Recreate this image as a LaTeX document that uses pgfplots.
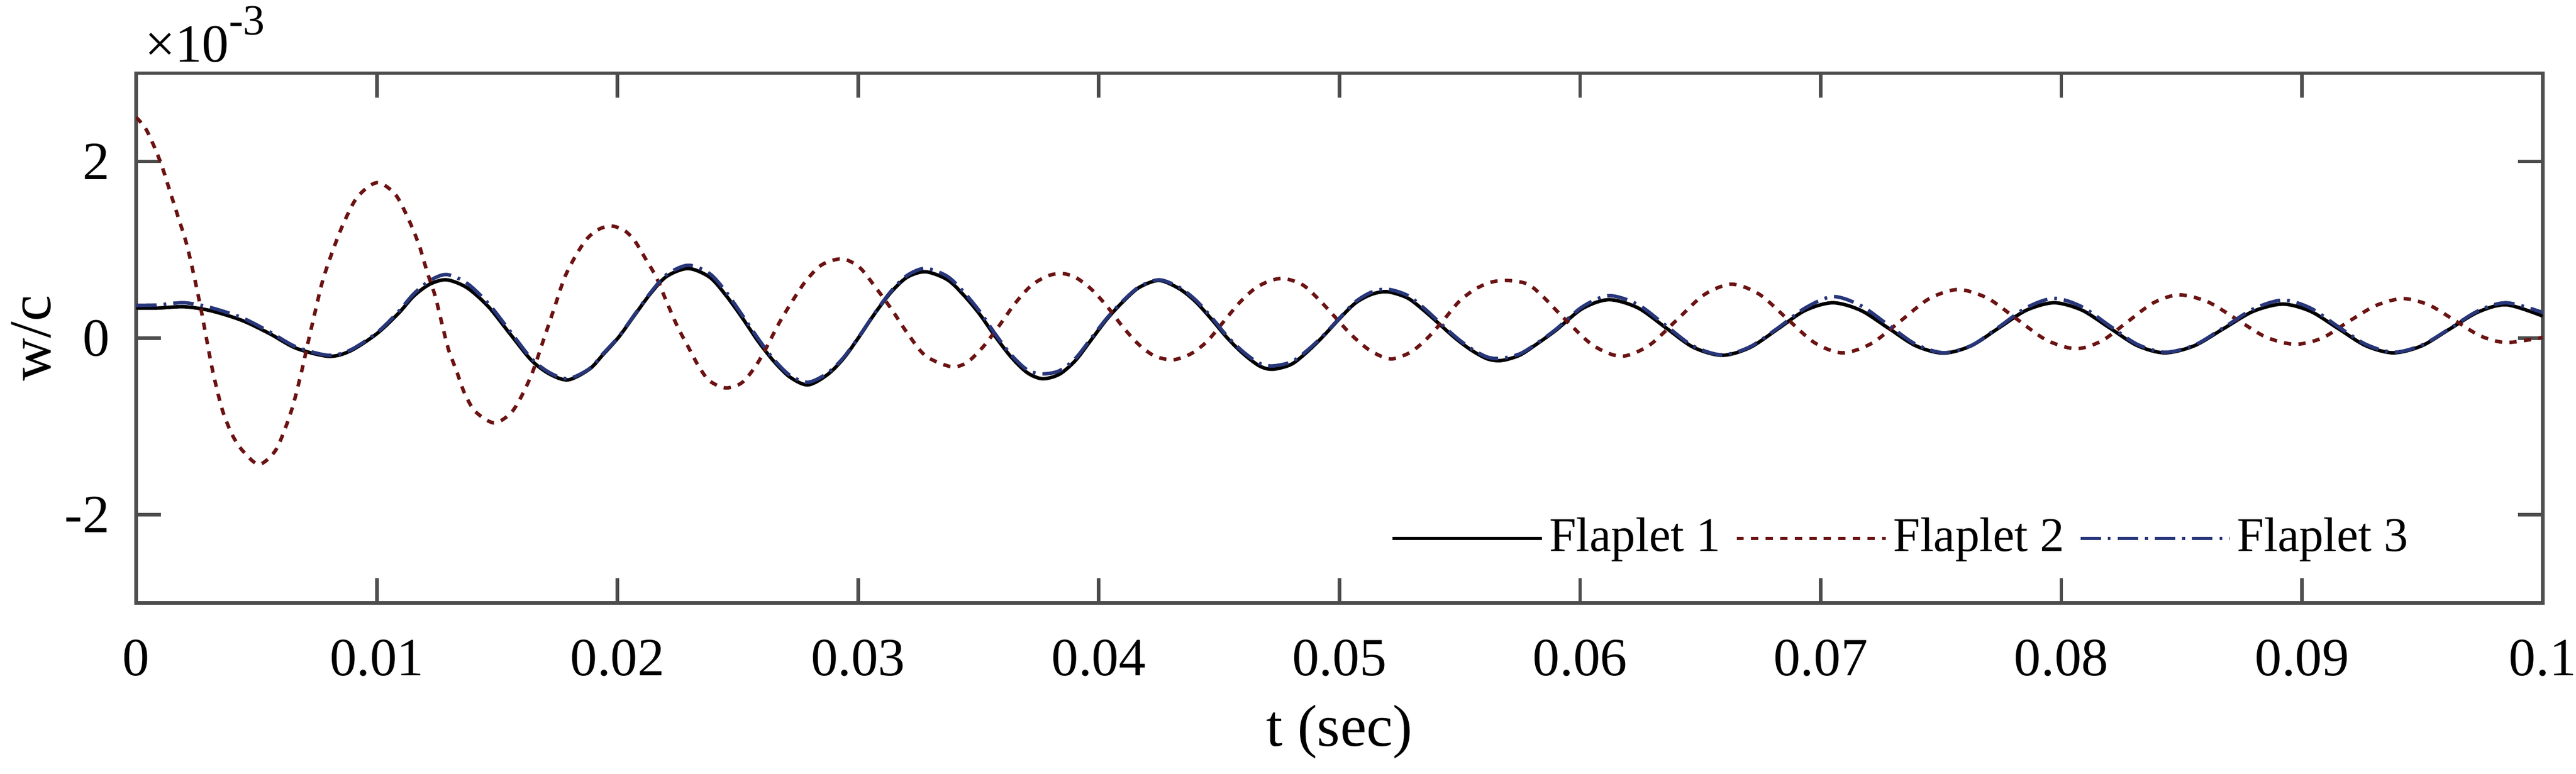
\documentclass[border=0pt]{standalone}
\usepackage{fontspec}
\setmainfont{Liberation Serif}
\usepackage{pgfplots}
\pgfplotsset{compat=1.18}
\definecolor{axgray}{RGB}{77,77,77}
\definecolor{fred}{RGB}{107,18,18}
\definecolor{fblue}{RGB}{40,54,122}
\begin{document}
\begin{tikzpicture}
\path[use as bounding box] (-25.3pt,-31.7pt) rectangle (453.3pt,112.1pt);
\begin{axis}[
  at={(0pt,0pt)}, anchor=south west,
  scale only axis, width=447.1pt, height=98.5pt,
  xmin=0, xmax=0.1, ymin=-3, ymax=3,
  xtick={0,0.01,0.02,0.03,0.04,0.05,0.06,0.07,0.08,0.09,0.1},
  xticklabels={0,0.01,0.02,0.03,0.04,0.05,0.06,0.07,0.08,0.09,0.1},
  ytick={-2,0,2}, yticklabels={-2,0,2},
  scaled x ticks=false, scaled y ticks=false,
  tick align=inside, major tick length=4.6pt,
  tick style={color=axgray, line width=0.65pt},
  axis line style={color=axgray, line width=0.65pt},
  ticklabel style={font=\fontsize{10}{12}\selectfont, text=black},
  xticklabel style={yshift=-3.27pt},
  yticklabel style={xshift=-1.4pt},
  legend columns=3,
  legend image code/.code={\draw[#1] (0pt,0pt) -- (27.7pt,0pt);},
  legend style={draw=none, fill=none, at={(0.734,0.1218)}, anchor=center,
    inner xsep=0pt, inner ysep=0pt, font=\fontsize{9}{11}\selectfont,
    nodes={inner sep=1.1pt},
    /tikz/every even column/.append style={column sep=1.6pt}},
]
\addplot[black, line width=0.65pt, smooth] coordinates {
(0,0.34) (0.0009,0.34) (0.002,0.355) (0.0031,0.31) (0.0044,0.20) (0.00555,0.05)
(0.00665,-0.115) (0.0080,-0.206) (0.0089,-0.145) (0.0100,0.05) (0.0109,0.28)
(0.01153,0.475) (0.0122,0.61) (0.0129,0.66) (0.01375,0.57) (0.01464,0.355)
(0.01553,0.05) (0.01642,-0.25) (0.01717,-0.405) (0.01795,-0.473) (0.01884,-0.35)
(0.01939,-0.19) (0.02006,0.014) (0.02072,0.263) (0.02139,0.51) (0.02205,0.70)
(0.02294,0.788) (0.02383,0.69) (0.02449,0.49) (0.02516,0.24) (0.02583,-0.03)
(0.02649,-0.26) (0.02716,-0.44) (0.02791,-0.53) (0.02871,-0.417) (0.02938,-0.235)
(0.03004,0.014) (0.03071,0.285) (0.03138,0.523) (0.03204,0.69) (0.03280,0.751)
(0.03370,0.663) (0.03436,0.495) (0.03503,0.278) (0.03569,0.022) (0.03636,-0.215)
(0.03703,-0.392) (0.03766,-0.46) (0.03836,-0.41) (0.03903,-0.254) (0.03969,-0.018)
(0.04035,0.219) (0.04102,0.416) (0.04168,0.574) (0.04251,0.653) (0.04334,0.56)
(0.04401,0.416) (0.04467,0.219) (0.04534,0.002) (0.046,-0.176) (0.04667,-0.314)
(0.04722,-0.353) (0.048,-0.297) (0.04866,-0.156) (0.04933,0.022) (0.05,0.219)
(0.05066,0.396) (0.05133,0.495) (0.05199,0.525) (0.05282,0.456) (0.05349,0.318)
(0.05415,0.16) (0.05482,-0.002) (0.05548,-0.136) (0.05615,-0.235) (0.05673,-0.254)
(0.05748,-0.195) (0.05815,-0.077)
(0.0590,0.09) (0.0601,0.335) (0.0612,0.435) (0.0624,0.343) (0.06355,0.12)
(0.0647,-0.103) (0.0659,-0.195) (0.06705,-0.108) (0.0682,0.10) (0.06935,0.313)
(0.0705,0.40) (0.07165,0.316) (0.0728,0.115) (0.07395,-0.087) (0.0751,-0.17)
(0.07625,-0.087) (0.0774,0.115) (0.07855,0.316) (0.0797,0.40) (0.08085,0.317)
(0.082,0.117) (0.08315,-0.084) (0.0843,-0.167) (0.08553,-0.086) (0.08675,0.109)
(0.08798,0.304) (0.0892,0.385) (0.09035,0.304) (0.0915,0.109) (0.09265,-0.086)
(0.0938,-0.167) (0.09498,-0.087) (0.09615,0.105) (0.09733,0.297) (0.0985,0.377)
(0.1,0.25)
};
\addlegendentry{Flaplet 1}
\addplot[fred, line width=0.65pt, smooth, dash pattern=on 1.35pt off 1.35pt] coordinates {
(0,2.50) (0.00044,2.35) (0.001,2.0) (0.00144,1.63) (0.00177,1.35) (0.00211,1.05)
(0.00244,0.66) (0.00272,0.29) (0.00311,-0.28) (0.00333,-0.55) (0.0036,-0.83)
(0.0040,-1.10) (0.00444,-1.28) (0.0051,-1.43) (0.00577,-1.28) (0.00621,-1.01)
(0.00654,-0.74) (0.00688,-0.37) (0.00715,-0.04) (0.00743,0.29) (0.00776,0.66)
(0.00821,1.02) (0.00865,1.32) (0.0092,1.60) (0.0100,1.76) (0.01076,1.63)
(0.01131,1.35) (0.01176,1.05) (0.01209,0.75) (0.01242,0.48) (0.0127,0.17)
(0.01298,-0.13) (0.01331,-0.37) (0.01364,-0.62) (0.01409,-0.83) (0.01486,-0.96)
(0.01553,-0.86) (0.01597,-0.68) (0.01645,-0.40) (0.01694,-0.01) (0.01739,0.353)
(0.01781,0.69) (0.01828,0.94) (0.01872,1.12) (0.01917,1.225) (0.01972,1.27)
(0.02028,1.22) (0.02072,1.10) (0.02117,0.897) (0.02161,0.69) (0.02206,0.40)
(0.0225,0.127) (0.02294,-0.10) (0.02339,-0.326) (0.02383,-0.485) (0.0245,-0.564)
(0.02516,-0.507) (0.02572,-0.326) (0.02616,-0.122) (0.02672,0.172) (0.02727,0.42)
(0.02783,0.648) (0.02849,0.83) (0.02932,0.897) (0.03004,0.806) (0.03071,0.58)
(0.03138,0.33) (0.03204,0.059) (0.03280,-0.20) (0.03387,-0.324) (0.03453,-0.274)
(0.0352,-0.097) (0.03586,0.14) (0.03653,0.396) (0.03719,0.594) (0.03786,0.702)
(0.03844,0.732) (0.03902,0.69) (0.03969,0.554) (0.04035,0.357) (0.04102,0.12)
(0.04168,-0.077) (0.04234,-0.205) (0.04309,-0.245) (0.04384,-0.176) (0.0445,-0.037)
(0.04517,0.18) (0.04583,0.396) (0.0465,0.564) (0.04716,0.653) (0.04774,0.673)
(0.04849,0.60) (0.04915,0.436) (0.04982,0.238) (0.05048,0.041) (0.05115,-0.117)
(0.05173,-0.205) (0.05223,-0.235) (0.05298,-0.156) (0.05365,-0.002) (0.05431,0.199)
(0.05498,0.416) (0.05564,0.554) (0.0563,0.633) (0.05697,0.653) (0.05781,0.613)
(0.05844,0.475) (0.05935,0.22) (0.06053,-0.08) (0.0617,-0.206) (0.06285,-0.086)
(0.064,0.20) (0.06515,0.49) (0.0663,0.61) (0.06745,0.496) (0.0686,0.22)
(0.06975,-0.053) (0.0709,-0.167) (0.0721,-0.062) (0.0733,0.19) (0.0745,0.445)
(0.0757,0.55) (0.07693,0.452) (0.07815,0.215) (0.07938,-0.022) (0.0806,-0.12)
(0.08168,-0.031) (0.08275,0.185) (0.08383,0.40) (0.0849,0.49) (0.0861,0.408)
(0.0873,0.21) (0.0885,0.012) (0.0897,-0.07) (0.09083,0.0) (0.09195,0.19)
(0.09308,0.37) (0.0942,0.447) (0.09528,0.374) (0.09635,0.20) (0.09743,0.023)
(0.0985,-0.05) (0.1,0.008)
};
\addlegendentry{Flaplet 2}
\addplot[fblue, line width=0.65pt, smooth, dash pattern=on 3.8pt off 1.3pt on 0.5pt off 1.3pt] coordinates {
(0,0.37) (0.0009,0.375) (0.002,0.40) (0.0031,0.345) (0.0044,0.23) (0.00555,0.07)
(0.00665,-0.10) (0.0080,-0.195) (0.0089,-0.135) (0.0100,0.06) (0.0109,0.30)
(0.01153,0.50) (0.0122,0.65) (0.0129,0.72) (0.01375,0.62) (0.01464,0.39)
(0.01553,0.08) (0.01642,-0.23) (0.01717,-0.39) (0.01795,-0.46) (0.01884,-0.345)
(0.01939,-0.18) (0.02006,0.02) (0.02072,0.27) (0.02139,0.52) (0.02205,0.72)
(0.02294,0.825) (0.02383,0.73) (0.02449,0.53) (0.02516,0.27) (0.02583,0.0)
(0.02649,-0.24) (0.02716,-0.42) (0.02791,-0.50) (0.02871,-0.40) (0.02938,-0.225)
(0.03004,0.02) (0.03071,0.29) (0.03138,0.535) (0.03204,0.71) (0.03280,0.79)
(0.03370,0.70) (0.03436,0.53) (0.03503,0.31) (0.03569,0.05) (0.03636,-0.19)
(0.03703,-0.36) (0.03766,-0.405) (0.03836,-0.37) (0.03903,-0.23) (0.03969,0.0)
(0.04035,0.23) (0.04102,0.425) (0.04168,0.58) (0.04251,0.66) (0.04334,0.575)
(0.04401,0.435) (0.04467,0.24) (0.04534,0.02) (0.046,-0.155) (0.04667,-0.285)
(0.04722,-0.315) (0.048,-0.27) (0.04866,-0.14) (0.04933,0.03) (0.05,0.225)
(0.05066,0.41) (0.05133,0.52) (0.05199,0.554) (0.05282,0.485) (0.05349,0.345)
(0.05415,0.18) (0.05482,0.015) (0.05548,-0.12) (0.05615,-0.215) (0.05673,-0.23)
(0.05748,-0.18) (0.05815,-0.07)
(0.0590,0.10) (0.0601,0.355) (0.0612,0.48) (0.0624,0.38) (0.06355,0.145)
(0.0647,-0.09) (0.0659,-0.19) (0.06705,-0.10) (0.0682,0.11) (0.06935,0.34)
(0.0705,0.47) (0.07165,0.37) (0.0728,0.15) (0.07395,-0.07) (0.0751,-0.165)
(0.07625,-0.085) (0.0774,0.125) (0.07855,0.345) (0.0797,0.45) (0.08085,0.355)
(0.082,0.14) (0.08315,-0.07) (0.0843,-0.16) (0.08553,-0.08) (0.08675,0.12)
(0.08798,0.33) (0.0892,0.43) (0.09035,0.34) (0.0915,0.13) (0.09265,-0.07)
(0.0938,-0.16) (0.09498,-0.08) (0.09615,0.11) (0.09733,0.31) (0.0985,0.40)
(0.1,0.29)
};
\addlegendentry{Flaplet 3}
\end{axis}
\node[anchor=base west, inner sep=0pt, font=\fontsize{10}{12}\selectfont] at (1.4pt,100.6pt) {×10\raisebox{5pt}{\fontsize{8}{9}\selectfont -3}};
\node[rotate=90, anchor=base, inner sep=0pt, font=\fontsize{11}{13}\selectfont] at (-15.9pt,49.25pt) {w/c};
\node[anchor=base, inner sep=0pt, font=\fontsize{11}{13}\selectfont] at (223.55pt,-26.6pt) {t (sec)};
\end{tikzpicture}
\end{document}
